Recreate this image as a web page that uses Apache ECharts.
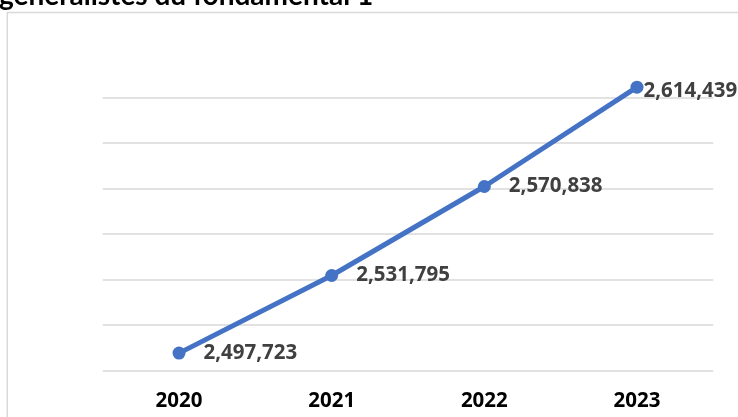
<!DOCTYPE html>
<html>
<head>
<meta charset="utf-8">
<style>
  html, body { margin: 0; padding: 0; background: #fff; }
  #chart { width: 738px; height: 417px; }
</style>
<script src="https://cdn.jsdelivr.net/npm/echarts@6/dist/echarts.min.js"></script>
</head>
<body>
<div id="chart"></div>
<script>
const years = ['2020', '2021', '2022', '2023'];
const teachers = [2497723, 2531795, 2570838, 2614439];
const titleText = 'generalistes du fondamental 1';

const fmt = (v) => v.toLocaleString('en-US');

const chart = echarts.init(document.getElementById('chart'), null, { renderer: 'canvas' });

// last label sits tight against its point, like in the source
const seriesData = teachers.map((v, i) => {
    if (i === teachers.length - 1) {
        return { value: v, label: { distance: 0, offset: [0, 4] } };
    }
    return v;
});

const option = {
    backgroundColor: '#fff',
    animation: false,
    grid: { left: 102.7, right: 24.7, top: 97.3, bottom: 46.3, containLabel: false, outerBoundsMode: 'none' },
    graphic: [
        {
            type: 'rect',
            shape: { x: 7.3, y: 12.5, width: 760, height: 440 },
            style: { fill: 'none', stroke: '#d9d9d9', lineWidth: 1.5 },
            silent: true,
        },
        {
            type: 'text',
            x: -1,
            y: 10,
            style: {
                text: titleText,
                font: 'bold 28px Lato',
                fill: '#000',
                verticalAlign: 'bottom',
            },
            silent: true,
        },
    ],
    xAxis: {
        type: 'category',
        data: years,
        boundaryGap: true,
        axisLine: { show: false },
        axisTick: { show: false },
        axisLabel: { margin: 20, color: '#000', fontSize: 20.5, fontWeight: 'bold', fontFamily: 'Open Sans' },
        splitLine: { show: false },
    },
    yAxis: {
        type: 'value',
        min: 2490000,
        max: 2610000,
        interval: 10000,
        axisLine: { show: false },
        axisTick: { show: false },
        axisLabel: { show: false },
        splitLine: {
            show: true,
            showMinLine: true,
            showMaxLine: true,
            lineStyle: { color: ['#d9d9d9', 'rgba(0,0,0,0)'], width: 1.5 },
        },
    },
    series: [
        {
            type: 'line',
            data: seriesData,
            clip: false,
            symbol: 'circle',
            symbolSize: 13,
            lineStyle: { color: '#4472C4', width: 5 },
            itemStyle: { color: '#4472C4' },
            label: {
                show: true,
                position: 'right',
                distance: 18,
                color: '#404040',
                fontSize: 20.5,
                fontWeight: 'bold',
                fontFamily: 'Open Sans',
                formatter: (p) => fmt(p.value),
            },
        },
    ],
};

chart.setOption(option);
</script>
</body>
</html>
